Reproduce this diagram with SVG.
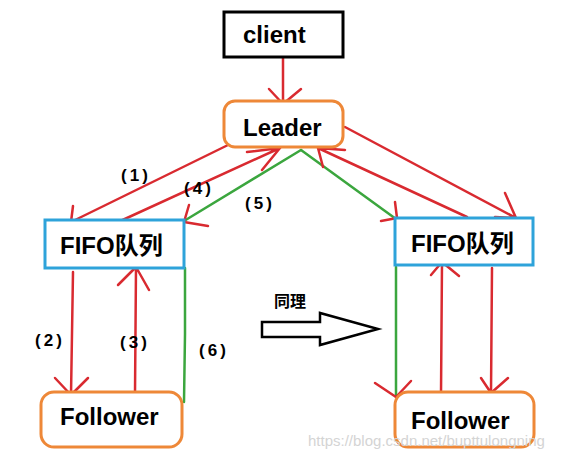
<svg xmlns="http://www.w3.org/2000/svg" width="571" height="459" viewBox="0 0 571 459">
<style>
.t{font-family:"Liberation Sans","Noto Sans CJK SC",sans-serif;font-weight:bold;fill:#000}
.big{font-size:24px}
.lbl{font-family:"Liberation Sans",sans-serif;font-weight:bold;font-size:17px;fill:#000;text-anchor:middle;letter-spacing:3px}
.tl{font-family:"Noto Sans CJK SC",sans-serif;font-weight:bold;font-size:16px;fill:#000;text-anchor:middle}
.r{stroke:#D92A30;stroke-width:2.5;fill:none;stroke-linecap:round;stroke-linejoin:round}
.g{stroke:#3BA63E;stroke-width:2.5;fill:none;stroke-linecap:round}
.blue{fill:#fff;stroke:#2EA3DA;stroke-width:3}
.org{fill:#fff;stroke:#EE8838;stroke-width:3}
</style>
<rect width="571" height="459" fill="#fff"/>
<g id="connectors">
  <path class="r" d="M283,57 L283,103 M269,89 L283,104 L301,89"/>
  <path class="r" d="M228,145 L71,222 M73,206 L71,222 L95,227"/>
  <path class="r" d="M116,223 L280,148 M247,152 L280,148 L262,170"/>
  <path class="g" d="M301,150 L184,221"/>
  <path class="r" d="M189,205 L184,222 L208,226"/>
  <path class="g" d="M301,150 L396,219"/>
  <path class="r" d="M381,221 L397,218 L395,202"/>
  <path class="r" d="M467,217 L318,148 M345,150 L318,148 L323,167"/>
  <path class="r" d="M345,127 L516,218 M505,193 L516,218 L495,217"/>
  <path class="r" d="M73,272 L71,395 M55,378 L71,395 L88,378"/>
  <path class="r" d="M135,393 L136,267 M118,285 L136,267 L149,290"/>
  <path class="g" d="M185,268 L185,334 L184,402"/>
  <path class="g" d="M396,267 L396,397"/>
  <path class="r" d="M375,383 L396,397 L411,381"/>
  <path class="r" d="M441,394 L442,262 M431,275 L442,262 L459,276"/>
  <path class="r" d="M492,268 L491,393 M481,378 L491,393 L508,378"/>
</g>
<g id="client">
  <rect x="224" y="12" width="119" height="45" fill="#fff" stroke="#000" stroke-width="3"/>
  <text class="t big" x="243" y="43">client</text>
</g>
<g id="leader">
  <rect class="org" x="224" y="101" width="119" height="46" rx="11"/>
  <text class="t big" x="243" y="136">Leader</text>
</g>
<g id="fifo-left">
  <rect class="blue" x="45" y="220" width="139" height="48"/>
  <text class="t big" x="60" y="254">FIFO队列</text>
</g>
<g id="fifo-right">
  <rect class="blue" x="395" y="218" width="138" height="47"/>
  <text class="t big" x="411" y="252">FIFO队列</text>
</g>
<g id="follower-left">
  <rect class="org" x="41" y="392" width="141" height="55" rx="13"/>
  <text class="t big" x="60" y="425">Follower</text>
</g>
<g id="follower-right">
  <rect class="org" x="395" y="392" width="139" height="55" rx="13"/>
  <text class="t big" x="411" y="429">Follower</text>
</g>
<g id="labels">
  <text class="lbl" x="136" y="181">(1)</text>
  <text class="lbl" x="199" y="194">(4)</text>
  <text class="lbl" x="260" y="209">(5)</text>
  <text class="lbl" x="50" y="346">(2)</text>
  <text class="lbl" x="135" y="348">(3)</text>
  <text class="lbl" x="214" y="356">(6)</text>
  <text class="tl" x="290" y="307">同理</text>
</g>
<g id="big-arrow">
  <polygon points="262,322 320,322 320,313 378,329 320,345 320,337 262,337" fill="#fff" stroke="#000" stroke-width="2.5" stroke-linejoin="miter"/>
</g>
<text x="308" y="446" font-family="Liberation Sans,sans-serif" font-size="15" fill="#D4D4D4">https://blog.csdn.net/bupttulongning</text>
</svg>
